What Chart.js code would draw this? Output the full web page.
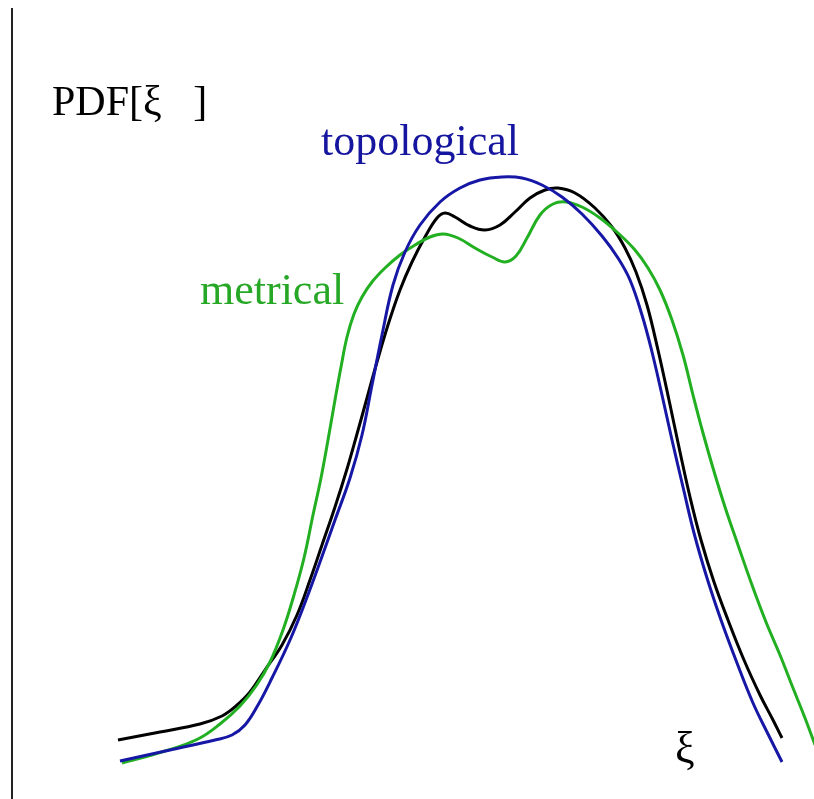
<!DOCTYPE html>
<html>
<head>
<meta charset="utf-8">
<script src="https://cdn.jsdelivr.net/npm/chart.js@4"></script>
<style>
  html, body { margin: 0; padding: 0; background: #fff; }
  #wrap { width: 814px; height: 799px; }
</style>
</head>
<body>
<div id="wrap"><canvas id="pdfChart"></canvas></div>
<script>
// ===============================
// DATA
// ===============================
const topoXi  = [120, 170, 215, 232, 245, 258, 272, 290, 306, 320, 335, 350, 362, 372, 382, 393, 405, 420, 440, 460, 480, 502, 522, 542, 562, 582, 602, 618, 630, 642, 652, 662, 672, 683, 694, 707, 721, 737, 753, 767, 782];
const topoPdf = [38, 49, 59, 64, 74, 94, 121, 159, 199, 237, 279, 321, 364, 414, 464, 514, 547, 574, 597, 611, 619, 622, 621, 614, 602, 585, 563, 541, 519, 484, 447, 404, 359, 312, 266, 221, 179, 136, 96, 67, 37];

const mixXi  = [118, 160, 200, 222, 236, 250, 265, 282, 297, 310, 322, 335, 347, 357, 367, 377, 388, 400, 412, 425, 437, 445, 455, 470, 485, 500, 515, 530, 545, 558, 575, 595, 612, 625, 636, 647, 658, 669, 680, 690, 701, 714, 728, 744, 760, 773, 782];
const mixPdf = [59, 67, 75, 83, 93, 107, 129, 154, 184, 219, 254, 292, 330, 365, 401, 437, 474, 509, 537, 562, 581, 586, 582, 573, 569, 574, 587, 601, 609, 611, 606, 591, 572, 551, 527, 494, 449, 399, 347, 302, 259, 217, 179, 139, 104, 79, 61];

const metrXi  = [122, 165, 198, 220, 240, 256, 270, 283, 294, 304, 313, 321, 328, 335, 341, 347, 354, 362, 372, 385, 400, 415, 430, 443, 458, 475, 492, 505, 516, 527, 540, 553, 566, 582, 600, 618, 635, 648, 660, 672, 683, 693, 703, 713, 725, 738, 752, 766, 780, 793, 805, 815, 822];
const metrPdf = [36, 48, 60, 75, 93, 113, 137, 169, 204, 241, 284, 321, 359, 399, 432, 462, 485, 502, 517, 531, 544, 554, 562, 565, 561, 551, 542, 537, 543, 561, 584, 595, 597, 592, 581, 566, 549, 531, 509, 479, 444, 404, 366, 331, 292, 254, 214, 177, 144, 111, 81, 54, 34];

// labels drawn on the plot: [text, xi, pdf, font size, colour]
const labels = [
  ['PDF[\u03BE   ]', 52, 684, 42, '#000000'],
  ['topological', 321, 644, 44, '#1515a0'],
  ['metrical', 200, 495, 44, '#26a826'],
  ['\u03BE', 675, 37, 44, '#000000']
];

const toPoints = (xs, ys) => xs.map((x, i) => ({ x: x, y: ys[i] }));

// ===============================
// AXIS LINE + TEXT PLUGIN
// ===============================
const decor = {
  id: 'decor',
  afterDatasetsDraw(chart) {
    const { ctx, scales: { x, y } } = chart;
    ctx.save();
    // vertical axis
    ctx.strokeStyle = '#222';
    ctx.lineWidth = 2;
    ctx.beginPath();
    ctx.moveTo(x.getPixelForValue(12), y.getPixelForValue(791));
    ctx.lineTo(x.getPixelForValue(12), y.getPixelForValue(0));
    ctx.stroke();
    // labels
    ctx.textBaseline = 'alphabetic';
    ctx.textAlign = 'left';
    labels.forEach(l => {
      ctx.font = l[3] + 'px "Liberation Serif", "Times New Roman", serif';
      ctx.fillStyle = l[4];
      ctx.fillText(l[0], x.getPixelForValue(l[1]), y.getPixelForValue(l[2]));
    });
    ctx.restore();
  }
};

// ===============================
// LINE CHART
// ===============================
new Chart(document.getElementById('pdfChart'), {
  type: 'line',
  data: {
    datasets: [
      {
        label: 'topological',
        data: toPoints(topoXi, topoPdf),
        borderColor: '#1717a6',
        borderWidth: 3
      },
      {
        label: 'metrical',
        data: toPoints(metrXi, metrPdf),
        borderColor: '#22b022',
        borderWidth: 3
      },
      {
        label: 'mixed',
        data: toPoints(mixXi, mixPdf),
        borderColor: '#000000',
        borderWidth: 3
      }
    ]
  },
  options: {
    responsive: true,
    maintainAspectRatio: false,
    devicePixelRatio: 1,
    animation: false,
    layout: { padding: 0 },
    elements: {
      point: { radius: 0 },
      line: { tension: 0.4, fill: false }
    },
    plugins: {
      legend: { display: false },
      tooltip: { enabled: false }
    },
    scales: {
      x: { type: 'linear', min: 0, max: 814, display: false },
      y: { type: 'linear', min: 0, max: 799, display: false }
    }
  },
  plugins: [decor]
});
</script>
</body>
</html>
